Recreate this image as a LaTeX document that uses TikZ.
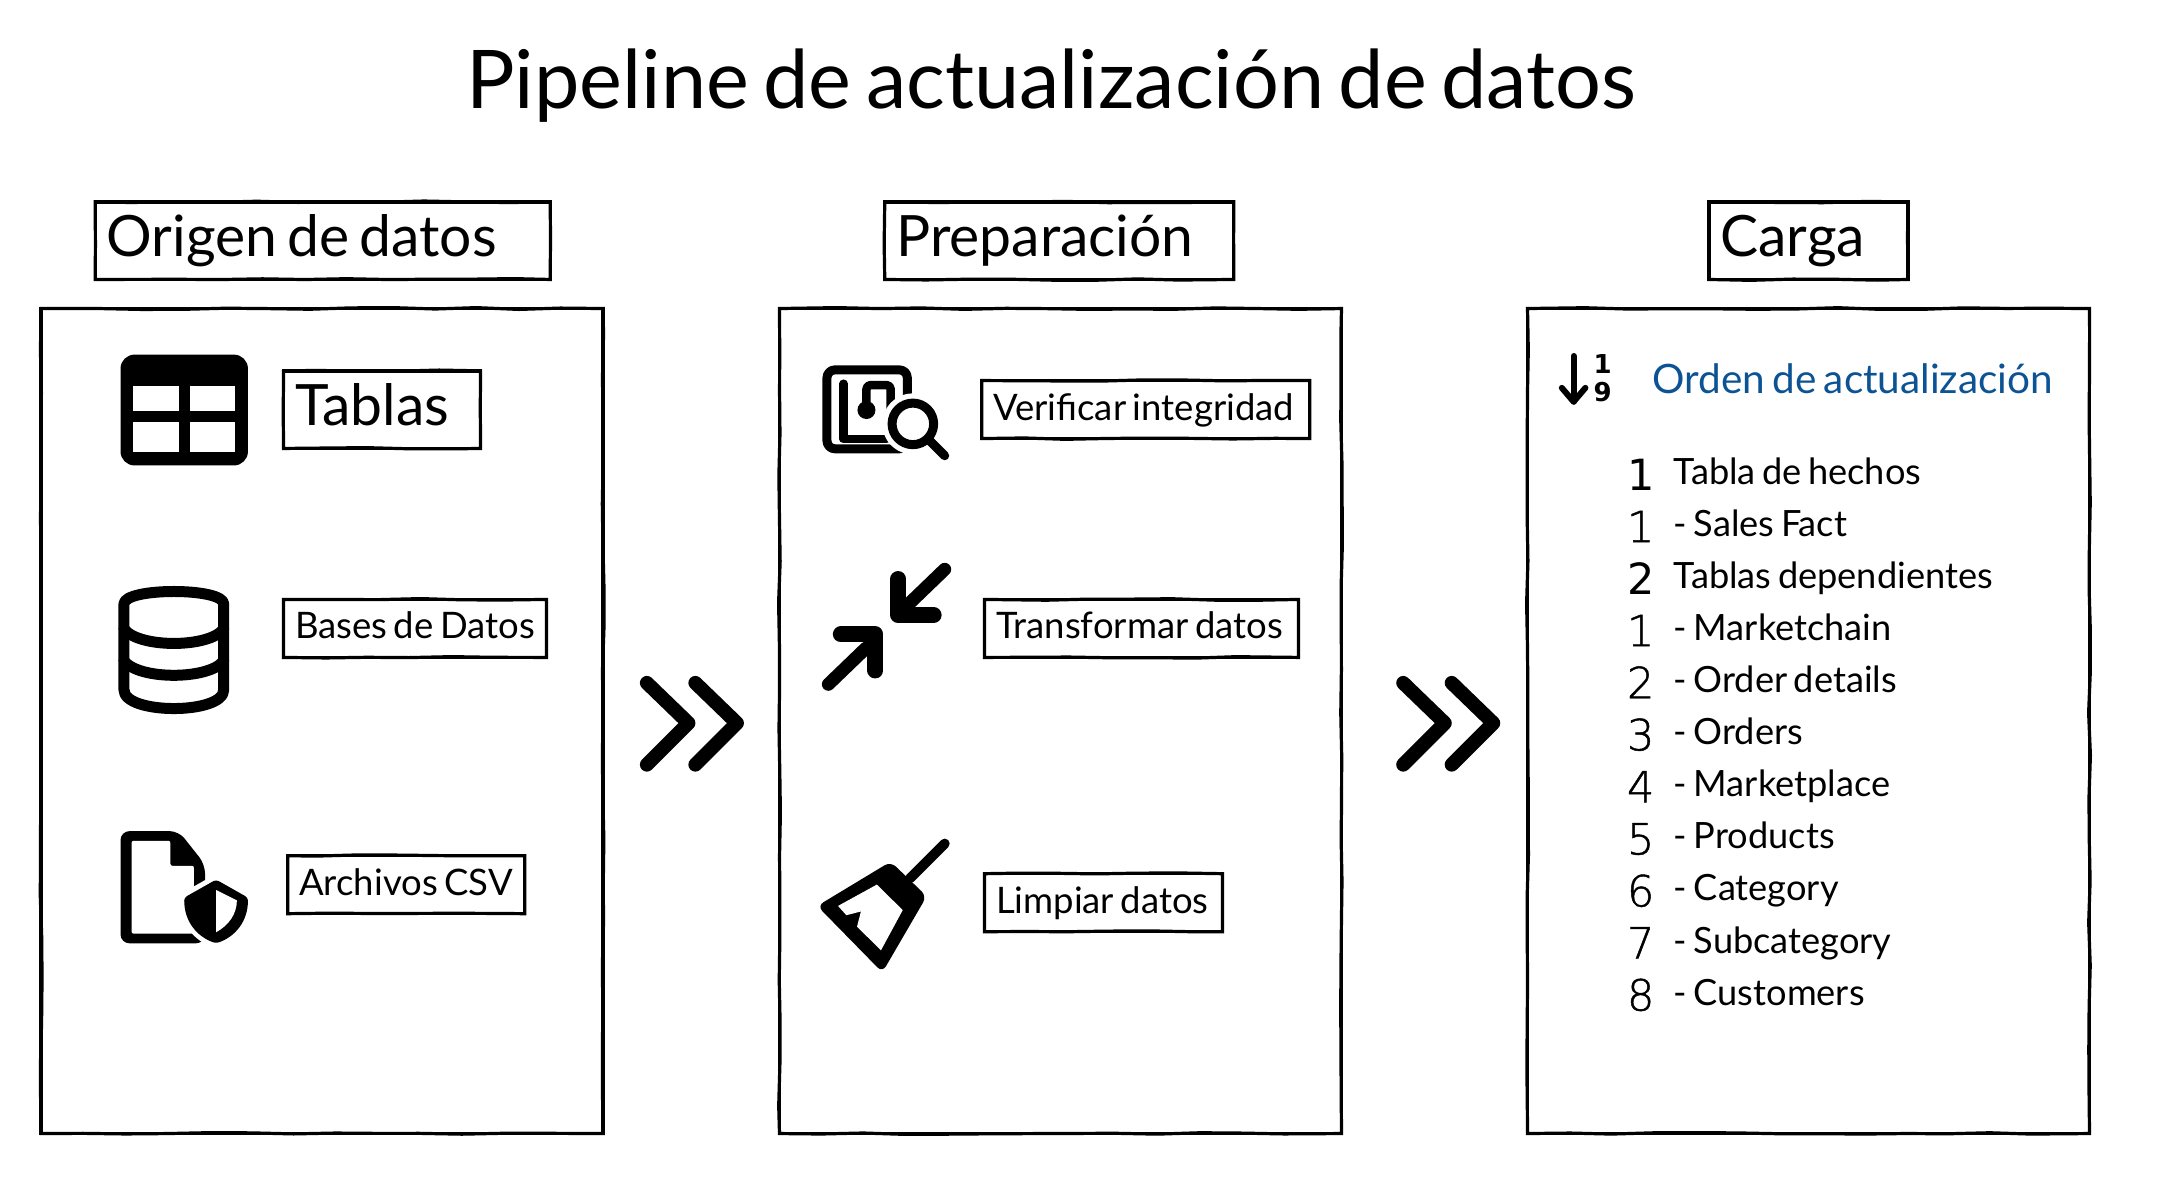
\documentclass[tikz,border=0pt]{standalone}
\usepackage{fontspec}
\setmainfont{Lato}[WordSpace=0.7]
\newfontfamily\digitfont{DejaVu Sans}
\newfontfamily\thindigitfont{DejaVu Sans ExtraLight}[FakeBold=1.1]
\usetikzlibrary{decorations.pathmorphing,matrix}
\definecolor{ordenblue}{HTML}{0B5394}
\pgfmathsetseed{7}
\tikzset{
  sketch/.style={draw, line width=3.4pt,
    postaction={draw, line width=3.2pt, decorate,
      decoration={random steps, segment length=42pt, amplitude=0.9pt}}},
  panel/.style={sketch, anchor=north west, minimum width=562pt, minimum height=825pt},
  headbox/.style={sketch, anchor=north west, inner xsep=11.5pt, inner ysep=0pt, align=flush left,
    minimum height=77.6pt, text height=41pt, text depth=9pt, font=\fontsize{57}{60}\selectfont},
  labelbox/.style={sketch, anchor=north west, inner xsep=11.5pt, inner ysep=0pt, align=flush left,
    minimum height=58pt, text height=27pt, text depth=6pt, font=\fontsize{36.5}{40}\selectfont},
  icon/.style={fill=black, draw=none},
  stroke/.style={draw=black, line cap=round, line join=round},
  chevron/.style={stroke, line width=14pt},
}
\begin{document}
\begin{tikzpicture}[x=1.3852pt, y=-1.3852pt, >=latex]
  \useasboundingbox (0,0) rectangle (1568,864.9);

  % We start by placing the title and the blocks
  \node[name=title, font=\fontsize{81}{88}\selectfont] at (759,62) {Pipeline de actualización de datos};

  \node[panel, name=origen] at (28.5,221.5) {};
  \node[panel, name=prep] at (561.5,221.5) {};
  \node[panel, name=carga] at (1101.5,221.5) {};

  \node[headbox, name=horigen, text width=432pt] at (67.5,144.5) {\mbox{Origen de datos}};
  \node[headbox, name=hprep, text width=326pt] at (637.5,144.5) {\mbox{Preparación}};
  \node[headbox, name=hcarga, text width=176pt] at (1232.5,144.5) {\mbox{Carga}};

  \node[headbox, name=tablas, text width=174pt] at (203.5,266.5) {\mbox{Tablas}};
  \node[labelbox, name=bases, text width=240pt] at (203.5,431.5) {\mbox{Bases de Datos}};
  \node[labelbox, name=archivos, text width=214pt] at (206.5,616.5) {\mbox{Archivos CSV}};
  \node[labelbox, name=verificar, text width=305pt] at (707.5,273.5) {\mbox{Verificar integridad}};
  \node[labelbox, name=transformar, text width=291pt] at (709.5,431.5) {\mbox{Transformar datos}};
  \node[labelbox, name=limpiar, text width=215pt] at (709.5,629.5) {\mbox{Limpiar datos}};

  % table icon
  \fill[icon, rounded corners=14pt] (87,256) rectangle (179,336);
  \fill[white] (96,279) rectangle (129,297);
  \fill[white] (137,279) rectangle (170,297);
  \fill[white] (96,305) rectangle (129,326);
  \fill[white] (137,305) rectangle (170,326);

  % database icon
  \draw[stroke, line width=11pt]
    (89.5,436) .. controls (89.5,424) and (161.5,424) .. (161.5,436)
    -- (161.5,498) .. controls (161.5,516) and (89.5,516) .. (89.5,498) -- cycle;
  \draw[stroke, line width=11pt] (89.5,454) .. controls (100,468) and (151,468) .. (161.5,454);
  \draw[stroke, line width=11pt] (89.5,477) .. controls (100,491) and (151,491) .. (161.5,477);

  % file with shield icon
  \fill[icon, rounded corners=9pt] (87,600) -- (129,600) -- (148,624) -- (148,681) -- (87,681) -- cycle;
  \fill[white, rounded corners=2pt] (95,607) -- (123,607) -- (123,625) -- (140,625) -- (140,674) -- (95,674) -- cycle;
  \filldraw[draw=white, fill=white, line width=10pt, line join=round]
    (156,635) -- (179,648) .. controls (179,665) and (170,676) .. (156,681)
    .. controls (142,676) and (133,665) .. (133,648) -- cycle;
  \fill[icon, rounded corners=3pt] (156,635) -- (179,648) .. controls (179,665) and (170,676) .. (156,681)
    .. controls (142,676) and (133,665) .. (133,648) -- cycle;
  \fill[white] (156,642.5) -- (171,650) .. controls (171,660) and (165,668) .. (156,673) -- cycle;

  % integrity check icon
  \draw[stroke, line width=9pt, rounded corners=8pt] (597,267) rectangle (655,324);
  \draw[stroke, line width=8.5pt] (609,277) -- (609,317) -- (640,317);
  \draw[stroke, line width=8.5pt, rounded corners=4pt] (625.5,296) -- (625.5,278) -- (643,278) -- (643,296);
  \fill[icon] (625.5,296) circle [radius=6.5];
  \fill[white] (659,306) circle [radius=22];
  \draw[stroke, line width=9pt] (659,306) circle [radius=15];
  \draw[stroke, line width=9pt] (671,318) -- (682,329);

  % compress arrows icon
  \draw[stroke, line width=13pt] (682,411) -- (655,437);
  \draw[stroke, line width=16pt] (648.5,418) -- (648.5,444) -- (674,444);
  \draw[stroke, line width=13pt] (598,494) -- (625,468);
  \draw[stroke, line width=16pt] (632,484) -- (632,458) -- (607,458);

  % brush icon
  \draw[stroke, line width=10pt] (682,609) -- (657,634);
  \fill[icon, rounded corners=7pt] (590,654) -- (643,622) -- (669,647) -- (637,702) -- cycle;
  \fill[white] (605,654) -- (633,638.6) -- (651.7,657) -- (636,686) -- (618.7,669) -- (621.5,658) -- (611,660.7) -- cycle;

  % arrows between the blocks
  \coordinate (a1) at (467,493);
  \coordinate (a2) at (497,522);
  \coordinate (a3) at (467,552);
  \coordinate (b1) at (502,493);
  \coordinate (b2) at (532,522);
  \coordinate (b3) at (502,552);
  \draw[chevron] (a1) -- (a2) -- (a3);
  \draw[chevron] (b1) -- (b2) -- (b3);

  \coordinate (c1) at (1013,493);
  \coordinate (c2) at (1043,522);
  \coordinate (c3) at (1013,552);
  \coordinate (d1) at (1048,493);
  \coordinate (d2) at (1078,522);
  \coordinate (d3) at (1048,552);
  \draw[chevron] (c1) -- (c2) -- (c3);
  \draw[chevron] (d1) -- (d2) -- (d3);

  % sort icon and list heading
  \draw[stroke, line width=6pt] (1136,257) -- (1136,290);
  \draw[stroke, line width=6pt] (1127.5,280) -- (1136,290) -- (1144.5,280);
  \node[name=sortone, font=\digitfont\bfseries\fontsize{26}{26}\selectfont, inner sep=0pt] at (1157,263) {1};
  \node[name=sortnine, font=\digitfont\bfseries\fontsize{26}{26}\selectfont, inner sep=0pt] at (1157,283) {9};
  \node[name=orden, anchor=base west, inner sep=0pt, text=ordenblue, font=\fontsize{40.5}{44}\selectfont] at (1193,284) {Orden de actualización};

  % the load order as two columns
  \matrix[name=lista, anchor=north west, row sep={52.05pt,between origins}, column sep={33pt,between origins},
    column 1/.style={nodes={anchor=base, inner sep=0pt, yshift=-5.5pt, font=\thindigitfont\fontsize{43}{44}\selectfont}},
    column 2/.style={nodes={anchor=base west, inner sep=0pt, font=\fontsize{36.2}{38}\selectfont}}] at (1172,328) {
      \node[name=n1, font=\digitfont\fontsize{43}{44}\selectfont] {1}; & \node[name=t1] {Tabla de hechos}; \\
      \node[name=n2] {1}; & \node[name=t2] {- Sales Fact}; \\
      \node[name=n3, font=\digitfont\fontsize{43}{44}\selectfont] {2}; & \node[name=t3] {Tablas dependientes}; \\
      \node[name=n4] {1}; & \node[name=t4] {- Marketchain}; \\
      \node[name=n5] {2}; & \node[name=t5] {- Order details}; \\
      \node[name=n6] {3}; & \node[name=t6] {- Orders}; \\
      \node[name=n7] {4}; & \node[name=t7] {- Marketplace}; \\
      \node[name=n8] {5}; & \node[name=t8] {- Products}; \\
      \node[name=n9] {6}; & \node[name=t9] {- Category}; \\
      \node[name=n10] {7}; & \node[name=t10] {- Subcategory}; \\
      \node[name=n11] {8}; & \node[name=t11] {- Customers}; \\
  };
\end{tikzpicture}
\end{document}
